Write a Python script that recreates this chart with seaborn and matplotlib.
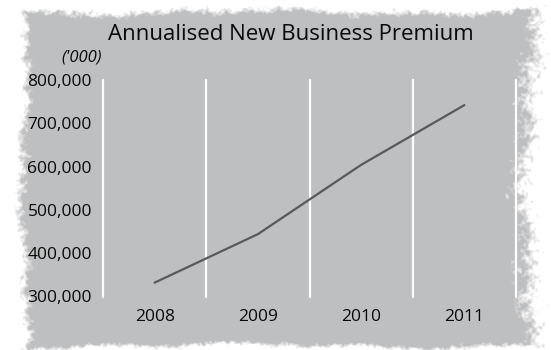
import numpy as np
import pandas as pd
import matplotlib
matplotlib.use("Agg")
import matplotlib.pyplot as plt
from matplotlib.ticker import FuncFormatter
import seaborn as sns

# Annualised new business premium ('000), by year
years = ["2008", "2009", "2010", "2011"]
premium = [332000, 444000, 604000, 742000]
y_ticks = [300000, 400000, 500000, 600000, 700000, 800000]

title = "Annualised New Business Premium"
unit_label = "('000)"

sns.set_style("white")
plt.rcParams["font.family"] = ["Open Sans", "DejaVu Sans"]

W, H = 551, 350
PAPER = np.array([0xbe, 0xbf, 0xc1]) / 255.0

fig = plt.figure(figsize=(W / 100, H / 100), dpi=100)
fig.patch.set_facecolor("white")

# --- soft, mottled grey paper behind the chart ---
yy, xx = np.mgrid[0:H, 0:W].astype(float)


def hash2(a, b):
    v = np.sin(a * 12.9898 + b * 78.233) * 43758.5453
    return v - np.floor(v)


def box_blur(a, r):
    out = a.copy()
    for axis in (0, 1):
        acc = np.zeros_like(out)
        for k in range(-r, r + 1):
            acc += np.roll(out, k, axis=axis)
        out = acc / (2 * r + 1)
    return out


grain = 0.5 * box_blur(hash2(np.floor(xx / 2), np.floor(yy / 2)), 1) \
    + 0.5 * box_blur(hash2(np.floor(xx / 5), np.floor(yy / 5)), 3)
grain = (grain - grain.mean()) / grain.std()

left = 24 + 3 * np.sin(yy / 41.0) + 2 * np.sin(yy / 13.0 + 1.0)
right = 527 + 5 * np.sin(yy / 47.0 + 0.5) + 3 * np.sin(yy / 17.0)
top = 12 + 2 * np.sin(xx / 53.0) + 1.5 * np.sin(xx / 19.0 + 2.0)
bottom = 345 + 2 * np.sin(xx / 61.0 + 1.0) + 1.5 * np.sin(xx / 21.0)

depth = np.minimum.reduce([
    (xx - left) / 6.0,
    (right - xx) / 13.0,
    (yy - top) / 4.0,
    (bottom - yy) / 3.0,
])
alpha = np.clip(0.5 + 0.8 * depth + 0.28 * grain, 0, 1)[..., None]
img = (1 - alpha) * np.ones(3) + alpha * PAPER

bg = fig.add_axes([0, 0, 1, 1], zorder=0)
bg.imshow(img, aspect="auto", interpolation="bilinear", extent=(0, W, H, 0))
bg.set_xlim(0, W)
bg.set_ylim(H, 0)
bg.axis("off")

# --- chart area ---
x0, x1, ytop, ybot = 103, 516, 80, 296.5
ax = fig.add_axes([x0 / W, 1 - ybot / H, (x1 - x0) / W, (ybot - ytop) / H], zorder=1)
ax.set_facecolor("none")

df = pd.DataFrame({"year": years, "premium": premium})
sns.lineplot(data=df, x="year", y="premium", ax=ax, color="#595959", linewidth=1.6,
             sort=False, zorder=3)

ax.set_xlim(-0.5, len(years) - 0.5)
ax.set_ylim(y_ticks[0], y_ticks[-1])
ax.set_yticks(y_ticks)
ax.yaxis.set_major_formatter(FuncFormatter(lambda v, _: f"{int(v):,}"))

# white separators between year columns
for b in np.arange(len(years) + 1) - 0.5:
    ax.axvline(b, color="white", linewidth=1.6, clip_on=False, zorder=2)

for s in ax.spines.values():
    s.set_visible(False)
ax.tick_params(axis="both", length=0, labelsize=12.5, colors="#0a0a0a")
ax.tick_params(axis="y", pad=8)
ax.tick_params(axis="x", pad=9)
ax.set_xlabel("")
ax.set_ylabel("")

fig.text(291 / W, 1 - 35 / H, title, ha="center", va="center", fontsize=16,
         color="#0a0a0a")
fig.text(102 / W, 1 - 57 / H, unit_label, ha="right", va="center", fontsize=12,
         style="italic", color="#0a0a0a")

fig.savefig("out.png", dpi=100)
